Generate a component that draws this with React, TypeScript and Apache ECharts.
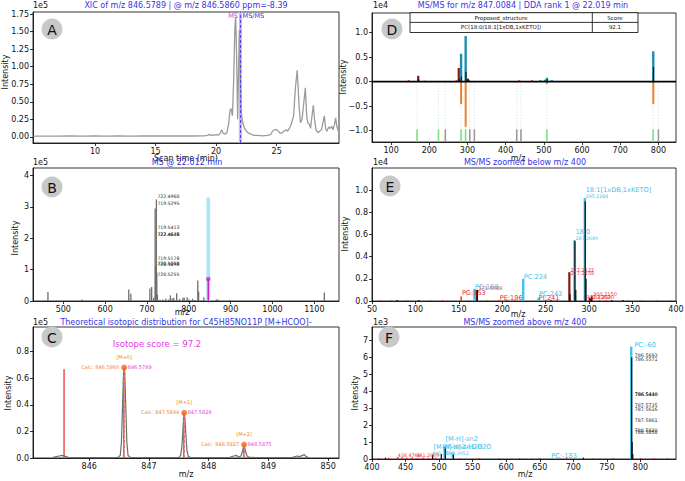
import React, { useEffect, useRef } from "react";
import * as echarts from "echarts";

const FONT = "DejaVu Sans";
const BLUE = "#3535e6";
const MAGENTA = "#e03ce0";
const ORANGE = "#f07f2e";
const CYAN = "#42c3ec";
const TEAL = "#1f8fb0";
const RED = "#e83535";
const DARKRED = "#8b1515";

// ---------- Panel A: XIC ----------
const xicTime = [4.9, 6, 7, 8, 9, 10, 11, 12, 13, 14, 15, 16, 17, 18, 19, 19.3, 19.45, 19.6, 19.8, 20.0, 20.2, 20.35, 20.46, 20.6, 20.75, 20.9, 21.05, 21.15, 21.25, 21.35, 21.45, 21.55, 21.62, 21.7, 21.78, 21.85, 21.92, 22.0, 22.08, 22.2, 22.35, 22.5, 22.7, 22.9, 23.1, 23.4, 23.8, 24.2, 24.5, 24.7, 24.86, 25.0, 25.15, 25.28, 25.45, 25.6, 25.77, 25.9, 26.05, 26.2, 26.4, 26.55, 26.7, 26.85, 26.97, 27.1, 27.25, 27.37, 27.48, 27.58, 27.7, 27.8, 27.92, 28.03, 28.13, 28.25, 28.4, 28.55, 28.7, 28.82, 28.94, 29.05, 29.15, 29.3, 29.42, 29.54, 29.65, 29.78, 29.87, 29.97, 30.1];
const xicInt = [0.01, 0.01, 0.01, 0.012, 0.01, 0.012, 0.01, 0.012, 0.01, 0.012, 0.012, 0.012, 0.015, 0.012, 0.015, 0.02, 0.035, 0.02, 0.025, 0.03, 0.025, 0.05, 0.1, 0.05, 0.04, 0.06, 0.2, 0.38, 0.4, 0.3, 0.8, 1.55, 1.71, 1.1, 0.25, 0.9, 1.52, 0.9, 0.35, 0.2, 0.12, 0.08, 0.05, 0.04, 0.02, 0.02, 0.015, 0.02, 0.03, 0.09, 0.105, 0.1, 0.08, 0.05, 0.06, 0.08, 0.1, 0.08, 0.12, 0.18, 0.3, 0.7, 0.95, 0.45, 0.2, 0.25, 0.5, 0.7, 0.3, 0.2, 0.18, 0.12, 0.3, 0.45, 0.25, 0.1, 0.06, 0.08, 0.1, 0.2, 0.3, 0.12, 0.08, 0.14, 0.12, 0.15, 0.1, 0.18, 0.27, 0.15, 0.08];
const scanMarkTimes = [22.012, 22.019];
const scanMarkNames = ["MS", "MS/MS"];
const aXTicks = [10, 15, 20, 25];
const aYTicks = [0, 0.25, 0.5, 0.75, 1.0, 1.25, 1.5, 1.75];

// ---------- Panel B: MS1 ----------
const msMz = [463.3, 545, 656.5, 661.5, 707, 711.2, 716, 719.53, 720.5, 721.5, 722.5, 723.5, 725, 731, 738, 745, 752, 756, 760, 764, 771, 778, 786, 789, 796, 800, 809, 815, 821.5, 823.5, 836, 866, 870, 897, 1124];
const msInt = [0.29, 0.05, 0.37, 0.23, 0.4, 0.45, 0.1, 2.95, 1.1, 0.3, 3.24, 0.9, 0.2, 0.04, 0.05, 0.07, 0.05, 0.18, 0.08, 0.1, 0.25, 0.06, 0.1, 0.1, 0.12, 0.05, 0.07, 0.03, 0.65, 0.3, 0.12, 0.05, 0.05, 0.03, 0.27];
const msLabelText = ["722.4960", "719.5295", "719.5413", "722.4648", "722.4678", "719.5178", "720.5058", "720.5098", "720.5255"];
const msLabelInt = [3.32, 3.11, 2.34, 2.13, 2.13, 1.34, 1.19, 1.17, 0.83];
const msLabelMz = [722.5, 722.5, 722.5, 722.5, 722.6, 722.5, 722.5, 722.6, 722.5];
const precursorMz = [846.58];
const precursorInt = [0.7];
const isolationTop = [3.3];
const bXTicks = [500, 600, 700, 800, 900, 1000, 1100];
const bYTicks = [0, 1, 2, 3, 4];

// ---------- Panel C: isotopes ----------
const profMz = [845.4, 845.45, 845.5, 845.55, 845.6, 845.65, 845.7, 846.0, 846.3, 846.48, 846.52, 846.54, 846.56, 846.575, 846.585, 846.595, 846.61, 846.63, 846.65, 846.69, 847.0, 847.3, 847.5, 847.53, 847.55, 847.57, 847.58, 847.59, 847.6, 847.615, 847.635, 847.66, 847.7, 848.0, 848.35, 848.42, 848.46, 848.5, 848.54, 848.57, 848.59, 848.61, 848.64, 848.68, 849.0, 849.4, 849.48, 849.52, 849.57, 849.6, 849.63, 849.67];
const profInt = [0.005, 0.01, 0.015, 0.02, 0.012, 0.005, 0.003, 0.003, 0.003, 0.004, 0.02, 0.12, 0.42, 0.64, 0.68, 0.64, 0.42, 0.12, 0.02, 0.004, 0.003, 0.003, 0.004, 0.02, 0.08, 0.22, 0.31, 0.34, 0.31, 0.2, 0.06, 0.01, 0.003, 0.003, 0.005, 0.015, 0.02, 0.008, 0.015, 0.06, 0.1, 0.06, 0.015, 0.004, 0.003, 0.005, 0.015, 0.01, 0.02, 0.025, 0.01, 0.003];
const isoNames = ["[M+0]", "[M+1]", "[M+2]"];
const isoCalcMz = [846.586, 847.5894, 848.5927];
const isoObsMz = [846.5789, 847.5829, 848.5875];
const isoInt = [0.68, 0.34, 0.1];
const isoCalcText = ["Calc: 846.5860", "Calc: 847.5894", "Calc: 848.5927"];
const isoObsText = ["846.5789", "847.5829", "848.5875"];
const extraPeakMz = [845.58];
const extraPeakInt = [0.67];
const isotopeScore = 97.2;
const cXTicks = [846, 847, 848, 849, 850];
const cYTicks = [0, 0.2, 0.4, 0.6, 0.8];

// ---------- Panel D: MS/MS mirror ----------
const dDarkRedMz = [171.0, 277.2, 300.2, 303];
const dDarkRedInt = [0.12, 0.28, 0.06, 0.04];
const dTealMz = [283.26, 295.23, 491, 503, 508, 521, 786.5];
const dTealInt = [0.57, 0.93, 0.03, 0.04, 0.08, 0.03, 0.62];
const dBlackMz = [172, 278, 284, 296, 301, 509, 787];
const dBlackInt = [0.05, 0.06, 0.1, 0.2, 0.06, 0.05, 0.3];
const dRedMz = [146, 188, 271, 436, 469];
const dRedInt = [0.03, 0.02, 0.03, 0.03, 0.03];
const dRefMz = [283.26, 295.23, 508, 786.5];
const dRefInt = [-0.46, -0.92, -0.05, -0.46];
const dMatchedMz = [168, 224, 283, 295, 508, 786];
const dUnmatchedMz = [242, 306, 318, 429, 440, 800];
const dXTicks = [100, 200, 300, 400, 500, 600, 700, 800];
const dYTicks = [-1, -0.5, 0, 0.5, 1];
const tableHeader = ["Proposed_structure", "Score"];
const tableRow = ["PC(18:0/18:1[1xDB,1xKETO])", "92.1"];

// ---------- Panel E: below 400 ----------
const eCyanMz = [168.0, 224.1, 242.1, 283.1, 295.0];
const eCyanInt = [0.11, 0.2, 0.03, 0.55, 0.93];
const eBlackMz = [79, 104, 171.3, 256, 277.9, 283.6, 284.6, 295.5, 296.4, 301, 303, 326, 339];
const eBlackInt = [0.01, 0.01, 0.1, 0.01, 0.06, 0.54, 0.1, 0.9, 0.2, 0.03, 0.04, 0.01, 0.01];
const eDarkRedMz = [170.8, 277.2];
const eDarkRedInt = [0.1, 0.26];
const eRedMz = [60, 72, 90, 118, 131, 152.6, 160, 183, 196.1, 205, 214, 241.1, 250, 263, 300.2, 302.2, 303.2, 312, 320, 345, 360, 378, 395];
const eRedInt = [0.005, 0.005, 0.005, 0.005, 0.008, 0.04, 0.005, 0.008, 0.01, 0.01, 0.012, 0.012, 0.008, 0.01, 0.03, 0.02, 0.04, 0.01, 0.008, 0.005, 0.005, 0.005, 0.005];
const eCyanLabelText = ["PC:168", "PC:224", "PC:242", "18:0", "18:1[1xDB,1xKETO]"];
const eCyanLabelMz = [168.6, 224.6, 242.3, 284.2, 296.0];
const eCyanLabelInt = [0.13, 0.22, 0.063, 0.62, 1.0];
const eCyanSmallText = ["283.2649", "295.2284"];
const eCyanSmallMz = [284.2, 296.0];
const eCyanSmallInt = [0.56, 0.94];
const eRedLabelText = ["PG:153", "PE:196", "PI:241"];
const eRedLabelMz = [153.5, 197.0, 242.0];
const eRedLabelInt = [0.07, 0.03, 0.03];
const eRedSmallText = ["171.0089", "277.2122", "277.2158", "300.2150", "302.2262", "303.2330"];
const eRedSmallMz = [172.5, 278.4, 278.4, 304.5, 296.8, 301.5];
const eRedSmallInt = [0.12, 0.28, 0.255, 0.06, 0.033, 0.04];
const eXTicks = [50, 100, 150, 200, 250, 300, 350, 400];
const eYTicks = [0, 0.2, 0.4, 0.6, 0.8, 1.0];

// ---------- Panel F: above 400 ----------
const fCyanMz = [508.3, 520.3, 663.0, 786.3];
const fCyanInt = [0.75, 0.3, 0.06, 6.65];
const fBlackMz = [420, 490.3, 503.3, 509.3, 521.3, 715, 786.9, 787.6, 788.6];
const fBlackInt = [0.08, 0.25, 0.3, 0.7, 0.3, 0.08, 6.0, 1.0, 0.3];
const fRedMz = [410, 425, 438.5, 445, 452, 460, 468, 476, 484, 495, 530, 560, 590, 620, 650, 690, 730, 760, 800, 820, 840];
const fRedInt = [0.06, 0.08, 0.12, 0.1, 0.08, 0.1, 0.07, 0.09, 0.06, 0.08, 0.05, 0.06, 0.05, 0.06, 0.05, 0.06, 0.05, 0.06, 0.05, 0.06, 0.05];
const fCyanLabelText = ["PC:-60", "[M-H]-sn2", "[M-H]-sn2-H2O", "[M-H]-sn1-H2O", "PC:-183"];
const fCyanLabelMz = [791.0, 509.5, 491.5, 505.0, 667.0];
const fCyanLabelInt = [6.75, 1.18, 0.72, 0.72, 0.2];
const fCyanSmallText = ["490.2890", "509.3052"];
const fCyanSmallMz = [489.0, 510.0];
const fCyanSmallInt = [0.35, 0.3];
const fBlackLabelText = ["786.5693", "786.5571", "786.5440", "786.5410", "787.5735", "787.5616", "787.5861", "788.5820", "788.5858"];
const fBlackLabelInt = [6.1, 5.9, 3.8, 3.8, 3.14, 2.94, 2.25, 1.7, 1.55];
const fBlackLabelMz = [791.5, 791.5, 791.5, 791.7, 791.5, 791.5, 791.5, 791.5, 791.5];
const fRedLabelText = ["438.4768", "441.2969"];
const fRedLabelMz = [438.5, 466.0];
const fRedLabelInt = [0.18, 0.18];
const fXTicks = [400, 450, 500, 550, 600, 650, 700, 750, 800];
const fYTicks = [0, 1, 2, 3, 4, 5, 6, 7];

// ---------- helpers ----------
const grids = [
  { left: 33, top: 12, width: 306, height: 131 }, // A
  { left: 33, top: 168, width: 306, height: 133 }, // B
  { left: 33, top: 327, width: 306, height: 131 }, // C
  { left: 372, top: 13, width: 304, height: 129 }, // D
  { left: 372, top: 168, width: 304, height: 133 }, // E
  { left: 372, top: 327, width: 304, height: 132 }, // F
];

const fmtInt = (v: number) => String(Math.round(v));
const fmt1 = (v: number) => (v < 0 ? "\u2212" + (-v).toFixed(1) : v.toFixed(1));
const fmt2 = (v: number) => v.toFixed(2);

function xAx(gi: number, min: number, max: number, ticks: number[], fmt: any) {
  return {
    type: "value", gridIndex: gi, min, max,
    axisLine: { show: true, onZero: false, lineStyle: { color: "#000", width: 0.8 } },
    axisTick: { show: true, length: 3, customValues: ticks, lineStyle: { color: "#000", width: 0.8 } },
    axisLabel: { customValues: ticks, formatter: fmt, fontSize: 8, fontFamily: FONT, color: "#111", margin: 4 },
    splitLine: { show: false },
  };
}
function yAx(gi: number, min: number, max: number, ticks: number[], fmt: any) {
  return {
    type: "value", gridIndex: gi, min, max,
    axisLine: { show: true, onZero: false, lineStyle: { color: "#000", width: 0.8 } },
    axisTick: { show: true, length: 3, customValues: ticks, lineStyle: { color: "#000", width: 0.8 } },
    axisLabel: { customValues: ticks, formatter: fmt, fontSize: 8, fontFamily: FONT, color: "#111", margin: 4 },
    splitLine: { show: false },
  };
}

function stems(gi: number, xs: number[], ys: number[], color: string, width: number, base = 0, dash: any = null, z = 3) {
  return {
    type: "custom", xAxisIndex: gi, yAxisIndex: gi, z, silent: true,
    data: xs.map((x, i) => [x, ys[i]]),
    renderItem: (p: any, api: any) => {
      const a = api.coord([api.value(0), base]);
      const b = api.coord([api.value(0), api.value(1)]);
      return {
        type: "line",
        shape: { x1: a[0], y1: a[1], x2: b[0], y2: b[1] },
        style: { stroke: color, lineWidth: width, lineDash: dash || undefined, fill: null },
      };
    },
  };
}

function labels(gi: number, xs: number[], ys: number[], texts: string[], o: any) {
  return {
    type: "custom", xAxisIndex: gi, yAxisIndex: gi, z: o.z ?? 6, silent: true,
    data: xs.map((x, i) => [x, ys[i]]),
    renderItem: (p: any, api: any) => {
      const c = api.coord([api.value(0), api.value(1)]);
      return {
        type: "text",
        x: c[0] + (o.dx || 0), y: c[1] + (o.dy || 0),
        style: {
          text: texts[p.dataIndex], fill: o.color, fontSize: o.size, fontFamily: FONT,
          fontWeight: o.weight || "normal", align: o.align || "left", verticalAlign: o.va || "middle",
        },
      };
    },
  };
}

function vlines(gi: number, xs: number[], y0: number, y1: number, color: string, width: number, dash: any = null, z = 4) {
  return {
    type: "custom", xAxisIndex: gi, yAxisIndex: gi, z, silent: true,
    data: xs.map((x) => [x, y1]),
    renderItem: (p: any, api: any) => {
      const a = api.coord([api.value(0), y0]);
      const b = api.coord([api.value(0), y1]);
      return {
        type: "line",
        shape: { x1: a[0], y1: a[1], x2: b[0], y2: b[1] },
        style: { stroke: color, lineWidth: width, lineDash: dash || undefined, opacity: 1 },
      };
    },
  };
}

function buildOption() {
  const series: any[] = [];
  const A = 0, B = 1, C = 2, D = 3, E = 4, F = 5;
  const aY = [-0.088, 1.78];

  // A
  series.push({
    type: "line", xAxisIndex: A, yAxisIndex: A, silent: true, symbol: "none", showSymbol: false, z: 3,
    data: xicTime.map((t, i) => [t, xicInt[i]]), lineStyle: { color: "#9b9b9b", width: 1.3 },
  });
  series.push(vlines(A, [scanMarkTimes[0]], aY[0], aY[1], "#dcb2f6", 3.2, null, 3));
  series.push(vlines(A, [scanMarkTimes[0]], aY[0], aY[1], MAGENTA, 1, [3, 2]));
  series.push(vlines(A, [scanMarkTimes[1]], aY[0], aY[1], "#4a4af0", 1, [3, 2]));
  series.push(labels(A, [scanMarkTimes[0]], [aY[1]], [scanMarkNames[0]], { color: MAGENTA, size: 6.5, align: "right", dx: -2.5, dy: 4 }));
  series.push(labels(A, [scanMarkTimes[1]], [aY[1]], [scanMarkNames[1]], { color: BLUE, size: 6.5, align: "left", dx: 2, dy: 4 }));

  // B
  series.push({
    type: "custom", xAxisIndex: B, yAxisIndex: B, z: 2, silent: true,
    data: precursorMz.map((x, i) => [x, isolationTop[i]]),
    renderItem: (p: any, api: any) => {
      const a = api.coord([api.value(0) - 4.6, api.value(1)]);
      const b = api.coord([api.value(0) + 4.6, 0]);
      return { type: "rect", shape: { x: a[0], y: a[1], width: b[0] - a[0], height: b[1] - a[1] }, style: { fill: "#aee6f8" } };
    },
  });
  series.push(stems(B, msMz, msInt, "#6e6e6e", 1.3));
  series.push(stems(B, precursorMz, precursorInt, "#cc22cc", 1.6, 0, null, 4));
  series.push({
    type: "scatter", xAxisIndex: B, yAxisIndex: B, silent: true, z: 5, symbol: "circle", symbolSize: 4.5,
    itemStyle: { color: "#d020d0" }, data: precursorMz.map((x, i) => [x, precursorInt[i]]),
  });
  series.push(labels(B, msLabelMz, msLabelInt, msLabelText, { color: "#222", size: 4.6, dx: 1 }));

  // C
  series.push({
    type: "line", xAxisIndex: C, yAxisIndex: C, silent: true, symbol: "none", showSymbol: false, z: 3,
    data: profMz.map((x, i) => [x, profInt[i]]), lineStyle: { color: "#6a7070", width: 1.2 },
  });
  series.push(stems(C, extraPeakMz, extraPeakInt, "#f05858", 1.6));
  series.push(stems(C, isoObsMz, isoInt, "#b04ad8", 1.4, 0, null, 4));
  series.push(stems(C, isoCalcMz, isoInt, ORANGE, 1.4, 0, [3, 2], 5));
  series.push({
    type: "scatter", xAxisIndex: C, yAxisIndex: C, silent: true, z: 6, symbol: "circle", symbolSize: 6,
    itemStyle: { color: "#f26a1a" }, data: isoCalcMz.map((x, i) => [x, isoInt[i]]),
  });
  series.push(labels(C, isoCalcMz, isoInt, isoNames, { color: ORANGE, size: 5, align: "center", dy: -11 }));
  series.push(labels(C, isoCalcMz, isoInt, isoCalcText, { color: ORANGE, size: 5, align: "right", dx: -5, dy: -1 }));
  series.push(labels(C, isoCalcMz, isoInt, isoObsText, { color: MAGENTA, size: 5, align: "left", dx: 3.5, dy: -1 }));

  // D
  series.push(stems(D, dMatchedMz, dMatchedMz.map(() => -0.97), "#a8eaa8", 0.8, 0, [1, 2], 2));
  series.push(stems(D, dUnmatchedMz, dUnmatchedMz.map(() => -0.97), "#cfcfcf", 0.8, 0, [1, 2], 2));
  series.push(stems(D, dMatchedMz, dMatchedMz.map(() => -1.23), "#7be07b", 1.6, -0.97));
  series.push(stems(D, dUnmatchedMz, dUnmatchedMz.map(() => -1.23), "#9a9a9a", 1.6, -0.97));
  series.push(stems(D, dRefMz, dRefInt, ORANGE, 2));
  series.push(stems(D, dRedMz, dRedInt, RED, 2));
  series.push(stems(D, dDarkRedMz, dDarkRedInt, DARKRED, 2.2));
  series.push(stems(D, dTealMz, dTealInt, TEAL, 2.4));
  series.push(stems(D, dBlackMz, dBlackInt, "#111", 1.2, 0, null, 4));
  series.push({
    type: "line", xAxisIndex: D, yAxisIndex: D, silent: true, symbol: "none", z: 5,
    data: [[50, 0], [846, 0]], lineStyle: { color: "#000", width: 1.6 },
  });

  // E
  series.push(stems(E, eRedMz, eRedInt, RED, 1.5));
  series.push(stems(E, eCyanMz, eCyanInt, CYAN, 2.4));
  series.push(stems(E, eDarkRedMz, eDarkRedInt, DARKRED, 2.2));
  series.push(stems(E, eBlackMz, eBlackInt, "#111", 1.3, 0, null, 4));
  series.push(labels(E, eCyanLabelMz, eCyanLabelInt, eCyanLabelText, { color: CYAN, size: 6.6 }));
  series.push(labels(E, eCyanSmallMz, eCyanSmallInt, eCyanSmallText, { color: CYAN, size: 4.7 }));
  series.push(labels(E, eRedLabelMz, eRedLabelInt, eRedLabelText, { color: RED, size: 6.6 }));
  series.push(labels(E, eRedSmallMz, eRedSmallInt, eRedSmallText, { color: RED, size: 5 }));

  // F
  series.push(stems(F, fRedMz, fRedInt, RED, 1.5));
  series.push(stems(F, fCyanMz, fCyanInt, CYAN, 2.4));
  series.push(stems(F, fBlackMz, fBlackInt, "#111", 1.3, 0, null, 4));
  series.push(labels(F, fCyanLabelMz, fCyanLabelInt, fCyanLabelText, { color: CYAN, size: 6.6 }));
  series.push(labels(F, fCyanSmallMz, fCyanSmallInt, fCyanSmallText, { color: CYAN, size: 4.8 }));
  series.push(labels(F, fBlackLabelMz, fBlackLabelInt, fBlackLabelText, { color: "#222", size: 4.8 }));
  series.push(labels(F, fRedLabelMz, fRedLabelInt, fRedLabelText, { color: RED, size: 4.8 }));

  const txt = (text: string, x: number, y: number, o: any = {}) => ({
    type: "text", x, y, z: 20, rotation: o.rot || 0, silent: true,
    style: {
      text, fill: o.color || "#111", fontSize: o.size || 8, fontFamily: FONT,
      fontWeight: o.weight || "normal", align: o.align || "center", verticalAlign: o.va || "middle",
    },
  });
  const circ = (letter: string, x: number, y: number) => [
    { type: "circle", z: 19, silent: true, shape: { cx: x, cy: y, r: 10.5 }, style: { fill: "#c8c8c8" } },
    txt(letter, x, y + 0.5, { size: 14 }),
  ];

  const graphic: any[] = [
    ...circ("A", 52, 29), ...circ("D", 392, 29), ...circ("B", 52, 187),
    ...circ("E", 390, 186), ...circ("C", 52, 337), ...circ("F", 389, 337),
    txt("XIC of m/z 846.5789 | @ m/z 846.5860 ppm=-8.39", 186, 5.5, { color: BLUE }),
    txt("MS/MS for m/z 847.0084 | DDA rank 1 @ 22.019 min", 523, 5.5, { color: BLUE }),
    txt("Scan time (min)", 186, 158),
    txt("m/z", 518, 158),
    txt("MS @ 22.012 min", 187, 162.5, { color: BLUE }),
    txt("MS/MS zoomed below m/z 400", 525, 162.5, { color: BLUE }),
    txt("m/z", 182, 312),
    txt("m/z", 518, 314),
    txt("Theoretical isotopic distribution for C45H85NO11P [M+HCOO]-", 186, 322.5, { color: BLUE }),
    txt("MS/MS zoomed above m/z 400", 525, 322.5, { color: BLUE }),
    txt("m/z", 186, 474),
    txt("m/z", 525, 474),
    txt("1e5", 33, 5.5, { align: "left" }),
    txt("1e4", 373, 5.5, { align: "left" }),
    txt("1e5", 33, 162.5, { align: "left" }),
    txt("1e4", 373, 162.5, { align: "left" }),
    txt("1e5", 33, 322.5, { align: "left" }),
    txt("1e3", 373, 322.5, { align: "left" }),
    txt("Intensity", 5.5, 72, { rot: Math.PI / 2 }),
    txt("Intensity", 15, 238, { rot: Math.PI / 2 }),
    txt("Intensity", 8.5, 393, { rot: Math.PI / 2 }),
    txt("Intensity", 343, 77, { rot: Math.PI / 2 }),
    txt("Intensity", 345, 234, { rot: Math.PI / 2 }),
    txt("Intensity", 355, 393, { rot: Math.PI / 2 }),
    txt("Isotope score = " + isotopeScore.toFixed(1), 157, 344, { color: MAGENTA, size: 8.5 }),
    { type: "rect", z: 19, silent: true, shape: { x: 410, y: 12.7, width: 228, height: 19.8 }, style: { fill: "#fff", stroke: "#000", lineWidth: 0.8 } },
    { type: "line", z: 20, silent: true, shape: { x1: 410, y1: 22.4, x2: 638, y2: 22.4 }, style: { stroke: "#000", lineWidth: 0.8 } },
    { type: "line", z: 20, silent: true, shape: { x1: 592.3, y1: 12.7, x2: 592.3, y2: 32.5 }, style: { stroke: "#000", lineWidth: 0.8 } },
    txt(tableHeader[0], 501, 17.6, { size: 5.5 }),
    txt(tableHeader[1], 615, 17.6, { size: 5.5 }),
    txt(tableRow[0], 501, 27.4, { size: 5.5 }),
    txt(tableRow[1], 615, 27.4, { size: 5.5 }),
  ];

  return {
    animation: false,
    backgroundColor: "#fff",
    textStyle: { fontFamily: FONT },
    grid: grids.map((g) => ({ ...g, show: true, borderColor: "#000", borderWidth: 0.8, backgroundColor: "transparent", containLabel: false, outerBoundsMode: "none" })),
    xAxis: [
      xAx(A, 4.88, 30.15, aXTicks, fmtInt),
      xAx(B, 427.6, 1159, bXTicks, fmtInt),
      xAx(C, 845.06, 850.18, cXTicks, fmtInt),
      xAx(D, 50, 846, dXTicks, fmtInt),
      xAx(E, 50, 400, eXTicks, fmtInt),
      xAx(F, 400, 853, fXTicks, fmtInt),
    ],
    yAxis: [
      yAx(A, aY[0], aY[1], aYTicks, fmt2),
      yAx(B, 0, 4.24, bYTicks, fmtInt),
      yAx(C, 0, 0.985, cYTicks, fmt1),
      yAx(D, -1.23, 1.4, dYTicks, fmt1),
      yAx(E, 0, 1.2, eYTicks, fmt1),
      yAx(F, 0, 7.8, fYTicks, fmtInt),
    ],
    series,
    graphic,
  };
}

export default function App() {
  const ref = useRef<HTMLDivElement>(null);
  useEffect(() => {
    document.body.style.margin = "0";
    const chart = echarts.init(ref.current as HTMLDivElement, null, { renderer: "svg" });
    chart.setOption(buildOption() as any);
    return () => chart.dispose();
  }, []);
  return <div ref={ref} style={{ width: 685, height: 481, background: "#fff" }} />;
}
